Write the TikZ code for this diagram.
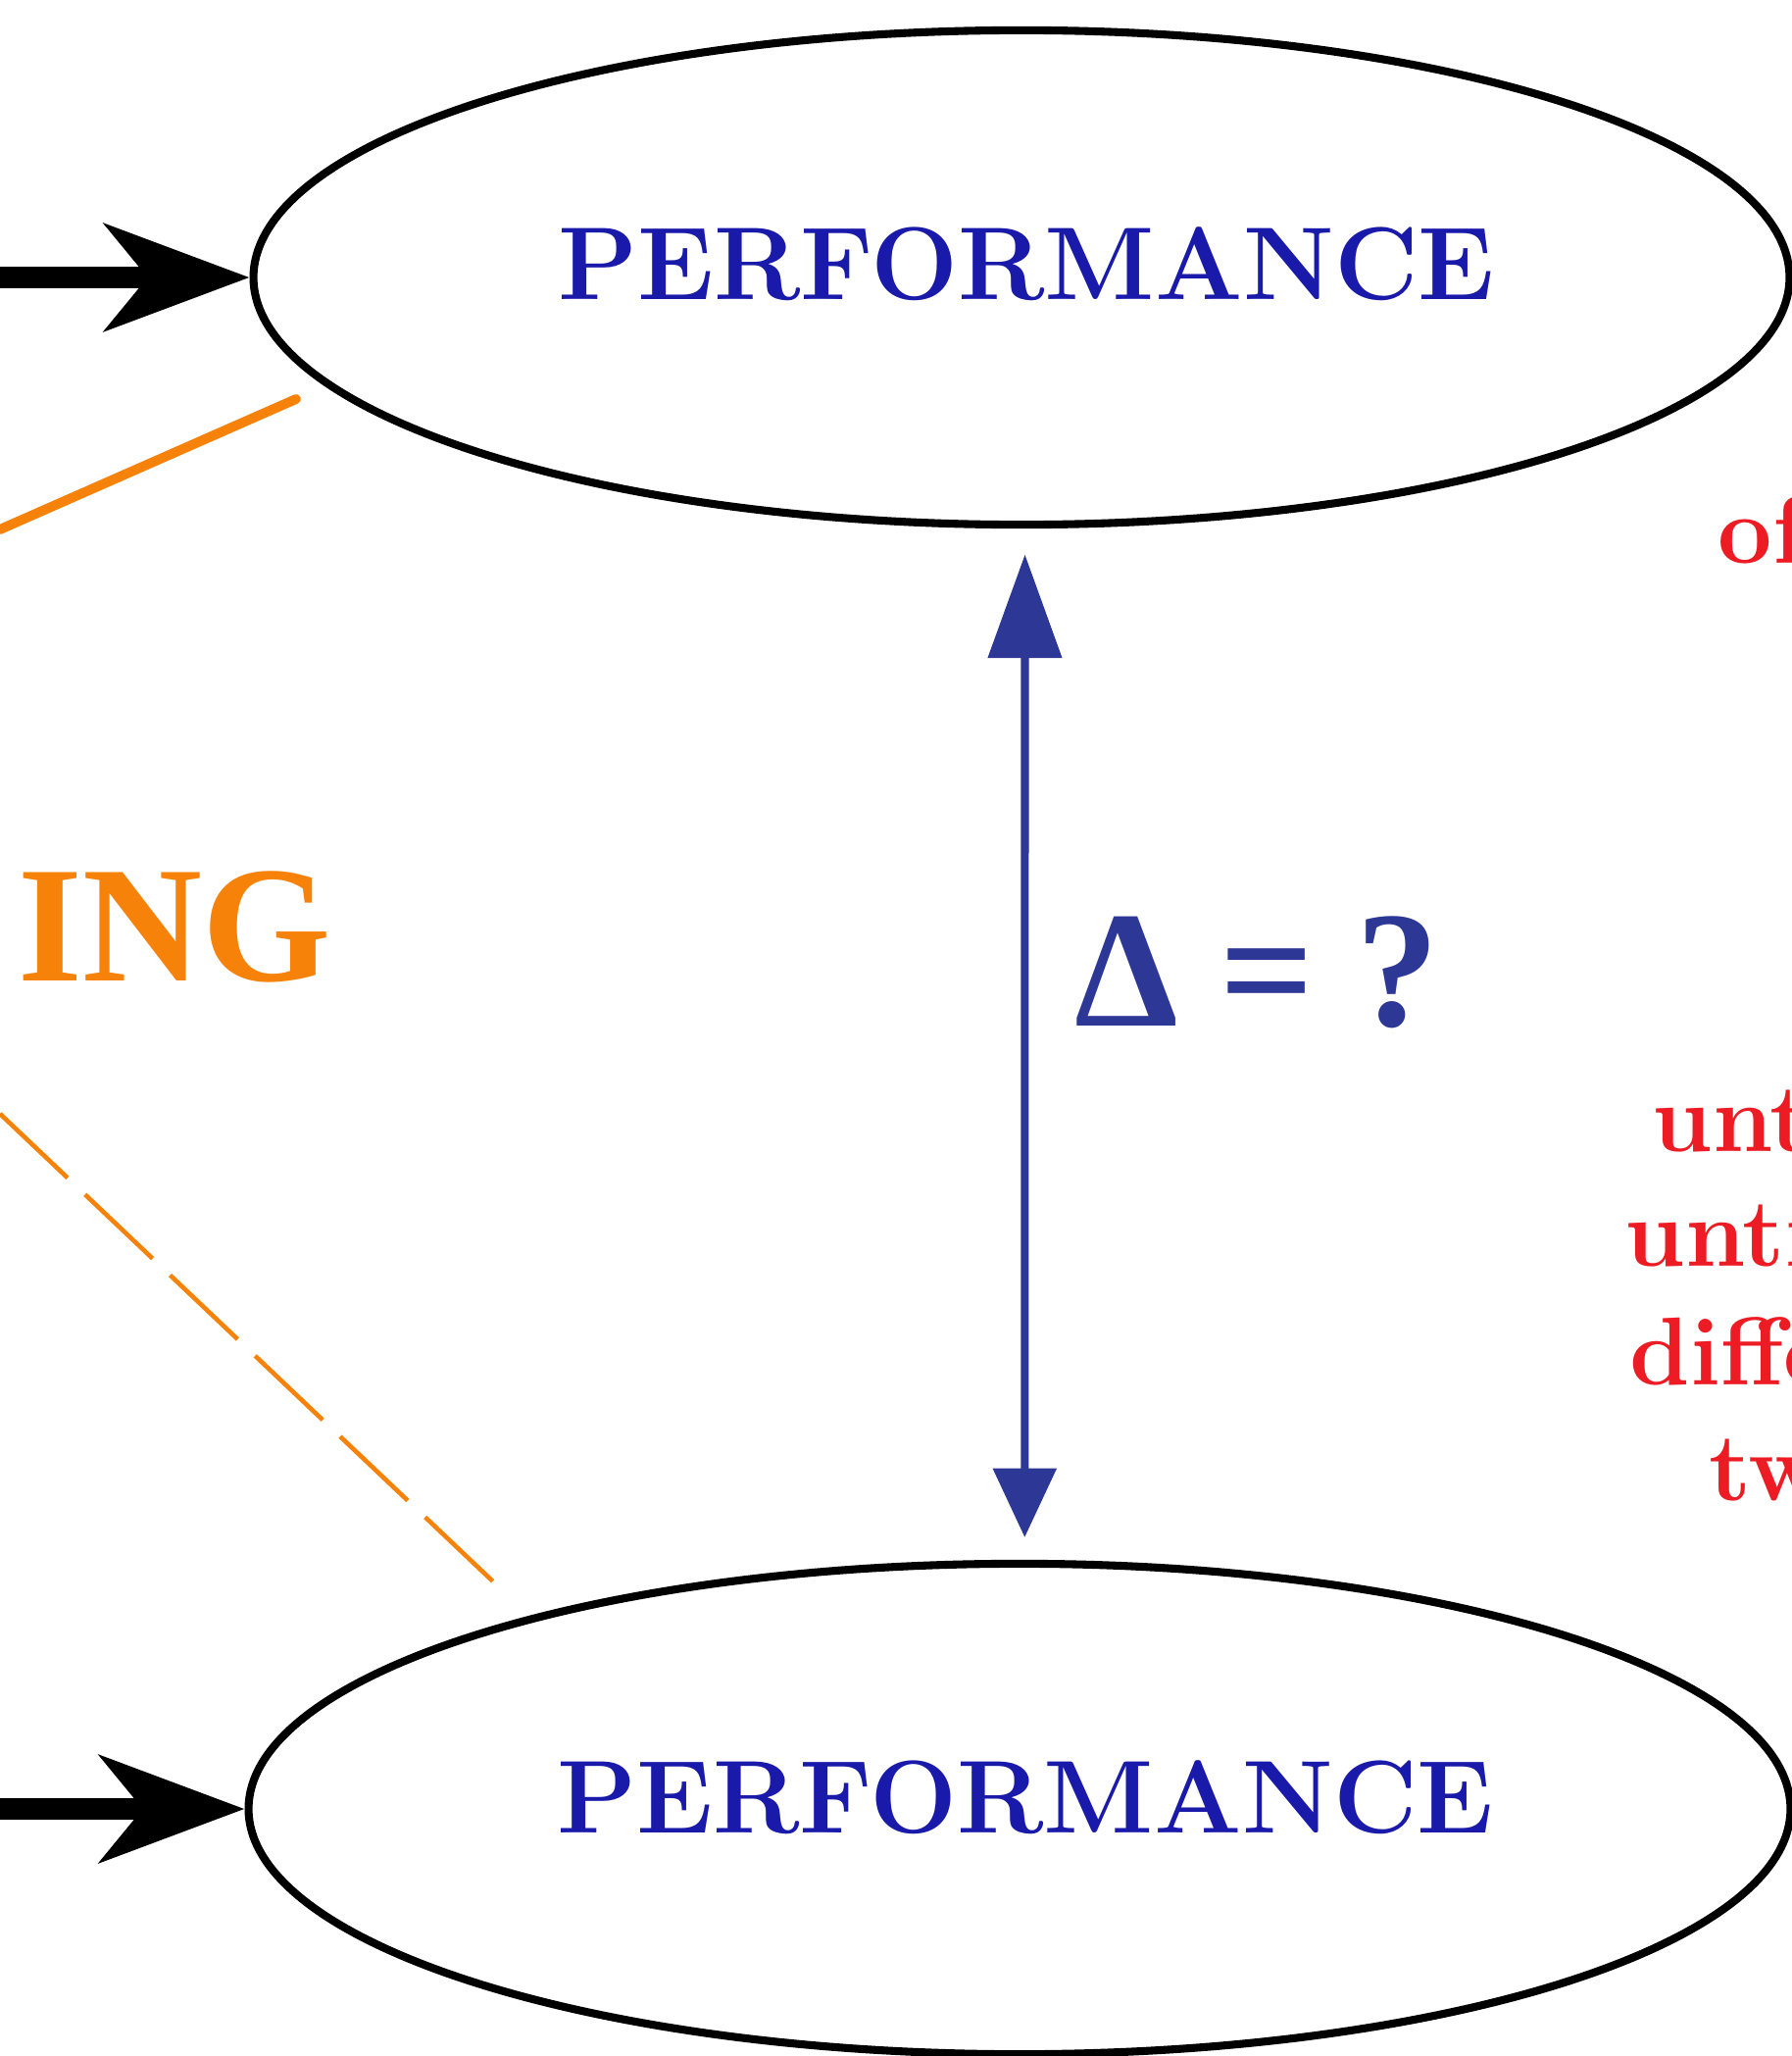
\documentclass[tikz,border=0pt]{standalone}
\usepackage{fontspec}
\newfontfamily\timesfont{Liberation Serif}
\usetikzlibrary{shapes.geometric,arrows.meta}
\definecolor{perfblue}{RGB}{25,25,170}
\definecolor{arrowblue}{RGB}{45,55,150}
\definecolor{learnorange}{RGB}{247,130,10}
\definecolor{notered}{RGB}{237,28,36}
\tikzset{
  perfellipse/.style={draw=black, line width=2.3pt, ellipse, inner sep=0pt,
    minimum width=15.66cm, minimum height=5.04cm},
  perftext/.style={text=perfblue, font=\fontsize{30}{36}\selectfont\bfseries, inner sep=0pt, anchor=base},
  inarrow/.style={line width=6.3pt, -{Stealth[length=42pt,width=31pt,inset=12.5pt]}},
  orangesolid/.style={draw=learnorange, line width=2.8pt, line cap=round},
  orangedash/.style={draw=learnorange, line width=1.3pt, dash pattern=on 27pt off 7pt},
  rednote/.style={text=notered, font=\fontsize{28}{34}\selectfont\bfseries, inner sep=0pt, anchor=base west},
}
\begin{document}
\begin{tikzpicture}[x=0.01cm, y=-0.01cm]
\clip (0,0) rectangle (1828,2097);
\fill[white] (0,0) rectangle (1828,2097);

% ellipses
\node[perfellipse] (top) at (1042,283) {};
\node[perfellipse, minimum width=15.72cm, minimum height=5.0cm] (bot) at (1040,1845) {};
\node[perftext] (toptext) at (1047,305) {PERFORMANCE};
\node[perftext] (bottext) at (1046,1869) {PERFORMANCE};

% incoming black arrows
\coordinate (topin) at (0,283);
\coordinate (botin) at (0,1845);
\draw[inarrow] (topin) -- (top.west);
\draw[inarrow] (botin) -- (bot.west);

% orange lines
\coordinate (os1) at (0,540);
\coordinate (os2) at (302,407);
\draw[orangesolid] (os1) -- (os2);
\coordinate (od1) at (0,1136);
\coordinate (od2) at (505,1615);
\draw[orangedash] (od1) -- (od2);

\node[text=learnorange, font=\timesfont\fontsize{48}{56}\selectfont\bfseries, inner sep=0pt, anchor=base west] (ing) at (18,1000) {ING};

% blue double arrow
\draw[draw=arrowblue, line width=2.3pt,
  {Triangle[length=30pt,width=21pt]}-{Triangle[length=20pt,width=18pt]},
  shorten <=7.5pt, shorten >=6.5pt]
  ([xshift=1pt]top.south) -- ([xshift=1.5pt]bot.north);
\node[text=arrowblue, font=\timesfont\fontsize{48}{56}\selectfont\bfseries, inner sep=0pt, anchor=base west] (delta) at (1096,1046) {Δ = ?};

% red notes (cut at right edge, as in the reference)
\node[rednote] (n1) at (1752,574) {of};
\node[rednote] (n2) at (1685,1174) {unt};
\node[rednote] (n3) at (1657,1291) {unti};
\node[rednote] (n4) at (1662,1412) {diffe};
\node[rednote] (n5) at (1743,1530) {tw};
\end{tikzpicture}
\end{document}
